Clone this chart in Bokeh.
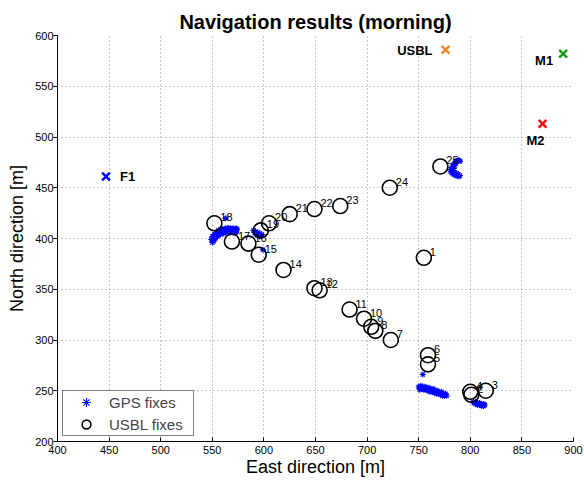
from bokeh.plotting import figure
from bokeh.models import ColumnDataSource, Legend, LegendItem, FixedTicker, Range1d
from bokeh.core.properties import value
from bokeh.embed import file_html
from bokeh.resources import INLINE

FONT = "Liberation Sans"

# ---------------- data ----------------
# USBL fixes (numbered 1..25)
usbl_num = [str(i) for i in range(1, 26)]
usbl_east = [755, 801, 815, 800, 759, 759, 723, 708, 704, 697, 683, 654, 649,
             619, 595, 585, 569, 552, 597, 605, 625, 649, 674, 722, 771]
usbl_north = [381, 246, 250, 249, 276, 285, 300, 309, 313, 321, 330, 349, 351,
              369, 384, 395, 397, 415, 408, 415, 424, 429, 432, 450, 471]

# GPS fixes
gps_east = [
    # arc near fixes 17/18
    550, 551, 551, 552, 552, 553, 553, 554, 555, 555, 556, 557, 557, 558, 559, 559,
    560, 561, 561, 562, 563, 563, 564, 565, 565, 566, 567, 567, 568, 569, 569, 570,
    571, 571, 572, 573, 573, 574, 549, 550, 552, 554, 556, 558,
    551, 553, 555, 558, 561, 564, 567, 570, 573,
    563,
    # near fixes 16/19
    590, 591, 592, 593, 594, 595, 596, 597, 598, 592, 594, 596,
    599,
    # near fix 25
    789, 790, 788, 787, 786, 785, 784, 783, 782, 781, 781, 782, 783, 784, 786, 787,
    789, 790, 785, 784, 783, 785, 787, 788, 786,
    # bottom track
    750, 751, 752, 753, 754, 755, 756, 757, 758, 759, 760, 761, 762, 763, 764, 765,
    766, 767, 768, 769, 770, 771, 772, 773, 774, 775, 776, 777, 751, 753, 755, 757,
    759, 761, 763, 765, 767, 769, 771, 773, 775,
    752, 756, 760, 764, 768, 772, 776,
    754,
    # near fixes 2/3/4
    803, 804, 805, 806, 807, 808, 809, 810, 811, 812, 813, 814, 805, 807, 809, 811, 813,
]
gps_north = [
    396, 398, 400, 399, 402, 401, 404, 403, 405, 403, 406, 405, 407, 406, 408, 406,
    409, 408, 406, 409, 410, 407, 409, 410, 408, 410, 409, 407, 410, 409, 407, 410,
    408, 406, 409, 410, 407, 409, 399, 402, 404, 406, 408, 409,
    397, 400, 402, 404, 405, 406, 406, 406, 406,
    420,
    408, 406, 407, 405, 406, 404, 405, 403, 404, 404, 403, 402,
    389,
    477, 476, 477, 476, 475, 474, 473, 471, 470, 468, 466, 465, 464, 463, 462, 462,
    461, 462, 472, 469, 467, 465, 464, 463, 476,
    254, 253, 254, 253, 254, 253, 253, 252, 253, 252, 252, 251, 251, 250, 251, 250,
    249, 250, 249, 248, 248, 247, 248, 247, 246, 246, 246, 245, 251, 252, 251, 251,
    250, 249, 249, 248, 247, 247, 246, 245, 245,
    255, 254, 253, 252, 250, 249, 247,
    266,
    239, 238, 239, 238, 238, 237, 238, 237, 237, 236, 237, 236, 237, 236, 236, 235, 235,
]

# Landmarks
mark_name = ["F1", "USBL", "M1", "M2"]
mark_east = [447, 776, 890, 870]
mark_north = [461, 586, 582, 513]
mark_color = ["#0000ff", "#f5862a", "#1a9a1a", "#ee1111"]
# label placement (screen px)
mark_dx = [14, -13, -10, 2]
mark_dy = [0, 1, 7, 17]
mark_align = ["left", "right", "right", "right"]

x_ticks = [400, 450, 500, 550, 600, 650, 700, 750, 800, 850, 900]
y_ticks = [200, 250, 300, 350, 400, 450, 500, 550, 600]

# ---------------- figure ----------------
p = figure(width=584, height=480, output_backend="svg", toolbar_location=None,
           x_range=Range1d(400, 900), y_range=Range1d(200, 600),
           min_border_left=57, min_border_right=11, min_border_top=35, min_border_bottom=39)
p.background_fill_color = "white"
p.border_fill_color = "white"
p.outline_line_color = None

p.title.text = "Navigation results (morning)"
p.title.text_font = FONT
p.title.text_font_size = "20px"
p.title.text_font_style = "bold"
p.title.align = "center"
p.title.vertical_align = "middle"
p.title.standoff = 4
p.title.text_color = "black"

for ax, ticks in ((p.xaxis[0], x_ticks), (p.yaxis[0], y_ticks)):
    ax.ticker = FixedTicker(ticks=ticks)
    ax.major_label_text_font = FONT
    ax.major_label_text_font_size = "11px"
    ax.major_label_text_color = "black"
    ax.axis_label_text_font = FONT
    ax.axis_label_text_font_size = "18px"
    ax.axis_label_text_font_style = "normal"
    ax.axis_label_text_color = "black"
    ax.axis_line_color = "black"
    ax.major_tick_line_color = "black"
    ax.minor_tick_line_color = None

p.xaxis.axis_label = "East direction [m]"
p.yaxis.axis_label = "North direction [m]"
p.xaxis.major_tick_in = 4
p.xaxis.major_tick_out = 0
p.xaxis.major_label_standoff = 4
p.xaxis.axis_label_standoff = 0
p.yaxis.major_tick_in = 0
p.yaxis.major_tick_out = 4
p.yaxis.major_label_standoff = 0
p.yaxis.axis_label_standoff = 5

p.grid.grid_line_color = "#8c8c8c"
p.grid.grid_line_dash = "1 3"
p.grid.grid_line_width = 1

# GPS fixes
gps_src = ColumnDataSource(dict(x=gps_east, y=gps_north))
r_gps = p.scatter("x", "y", source=gps_src, marker="asterisk", size=6,
                  line_color="#0000ff", line_width=1.1)

# USBL fixes
usbl_src = ColumnDataSource(dict(x=usbl_east, y=usbl_north, t=usbl_num))
r_usbl = p.scatter("x", "y", source=usbl_src, marker="circle", size=15,
                   fill_color=None, line_color="black", line_width=1.6)
p.text("x", "y", text="t", source=usbl_src, x_offset=6, y_offset=-6,
       text_font=value(FONT), text_font_size="11px", text_color="black",
       text_align="left", text_baseline="alphabetic")

# Landmarks
mark_src = ColumnDataSource(dict(x=mark_east, y=mark_north, c=mark_color, t=mark_name,
                                 dx=mark_dx, dy=mark_dy, al=mark_align))
p.scatter("x", "y", source=mark_src, marker="x", size=11, line_color="c", line_width=2.5)
p.text("x", "y", text="t", source=mark_src, x_offset="dx", y_offset="dy", text_align="al",
       text_font=value(FONT), text_font_size="13px", text_font_style="bold",
       text_color="black", text_baseline="middle")

legend = Legend(items=[LegendItem(label="GPS fixes", renderers=[r_gps]),
                       LegendItem(label="USBL fixes", renderers=[r_usbl])],
                location="bottom_left", margin=5, padding=0, spacing=0,
                glyph_height=22, glyph_width=46, label_standoff=0, label_width=84,
                label_height=20,
                label_text_font=FONT, label_text_font_size="15px",
                border_line_color="black", border_line_width=1,
                background_fill_color="white", background_fill_alpha=1)
p.add_layout(legend)

open("out.html", "w").write(file_html(p, INLINE))
